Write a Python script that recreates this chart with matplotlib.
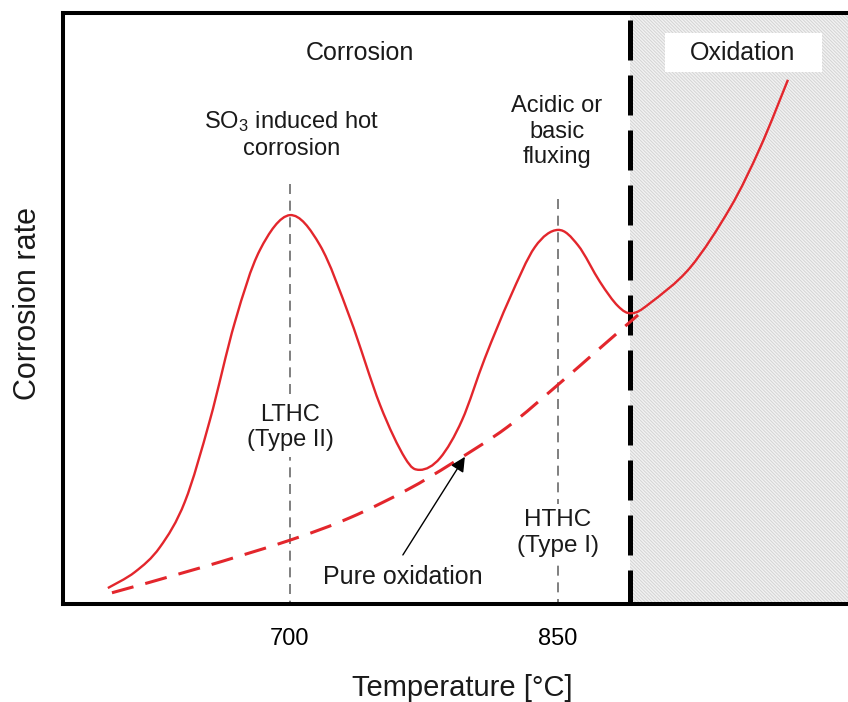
import matplotlib
matplotlib.use("Agg")
import matplotlib.pyplot as plt
from matplotlib.path import Path
from matplotlib.patches import PathPatch, Rectangle

plt.rcParams['font.family'] = ['Liberation Sans', 'DejaVu Sans']
plt.rcParams['mathtext.default'] = 'regular'
plt.rcParams['hatch.linewidth'] = 0.7

# Corrosion rate (arbitrary units) versus temperature
solid_T = [598.1, 613.2, 627.2, 641.2, 655.2, 669.2, 683.2, 700.0, 716.8,
           733.6, 750.4, 764.4, 772.8, 784.0, 796.3, 809.1, 823.1, 837.1,
           850.0, 861.2, 873.5, 883.6, 891.4, 901.5, 923.9, 946.3, 963.1,
           978.7]
solid_rate = [2.7, 5.4, 9.6, 17.3, 31.1, 47.7, 59.9, 65.8, 60.7, 48.4, 33.7,
              24.7, 22.7, 24.7, 31.1, 41.6, 51.8, 60.4, 63.3, 60.7, 54.5,
              50.4, 49.2, 50.9, 56.9, 67.0, 77.2, 88.7]

# Pure oxidation baseline
oxid_T = [600.4, 649.6, 700.0, 733.6, 765.5, 791.2, 821.5, 850.0, 872.4, 894.8]
oxid_rate = [1.9, 6.1, 10.8, 14.6, 19.3, 23.9, 29.9, 37.1, 43.0, 48.9]

tick_values = [700, 850]
tick_labels = ['700', '850']
boundary_T = 890.3
x_range = (573, 1012.3)
y_range = (0, 100)

RED = '#e3262c'


def smooth_path(xs, ys):
    """Cubic Bezier path passing through every (x, y) point (Catmull-Rom tangents)."""
    pts = list(zip(xs, ys))
    n = len(pts)
    verts = [pts[0]]
    codes = [Path.MOVETO]
    for i in range(n - 1):
        p0 = pts[max(i - 1, 0)]
        p1 = pts[i]
        p2 = pts[i + 1]
        p3 = pts[min(i + 2, n - 1)]
        c1 = (p1[0] + (p2[0] - p0[0]) / 6, p1[1] + (p2[1] - p0[1]) / 6)
        c2 = (p2[0] - (p3[0] - p1[0]) / 6, p2[1] - (p3[1] - p1[1]) / 6)
        verts += [c1, c2, p2]
        codes += [Path.CURVE4] * 3
    return Path(verts, codes)


fig = plt.figure(figsize=(8.48, 7.02), dpi=100)
ax = fig.add_axes([63 / 848, 98 / 702, 1 - 63 / 848, 591 / 702])
ax.set_xlim(*x_range)
ax.set_ylim(*y_range)

# oxidation regime shading
ax.axvspan(boundary_T, x_range[1], facecolor='#f2f2f2', edgecolor='#d4d4d4',
           hatch='\\' * 10, linewidth=0, zorder=0)

# guide lines at the two hot-corrosion peaks
ax.plot([700, 700], [71, 0], color='#6a6a6a', lw=1.2, linestyle=(0, (6, 4)), zorder=1)
ax.plot([850, 850], [68.5, 0], color='#6a6a6a', lw=1.2, linestyle=(0, (6, 4)), zorder=1)

# regime boundary
ax.plot([boundary_T, boundary_T], [100, 0], color='black', lw=3.6,
        linestyle=(9.6, (8, 3)), zorder=2, dash_capstyle='butt')

ax.add_patch(PathPatch(smooth_path(oxid_T, oxid_rate), facecolor='none',
                       edgecolor=RED, lw=2.2, linestyle=(0, (7.3, 4)),
                       capstyle='butt', zorder=3))
ax.add_patch(PathPatch(smooth_path(solid_T, solid_rate), facecolor='none',
                       edgecolor=RED, lw=1.7, zorder=4))

ax.spines['right'].set_visible(False)
for side in ['left', 'top', 'bottom']:
    ax.spines[side].set_linewidth(2.9)
    ax.spines[side].set_zorder(5)

ax.set_yticks([])
ax.set_xticks(tick_values)
ax.set_xticklabels(tick_labels, fontsize=17)
ax.tick_params(axis='x', length=0, pad=17)

txt = dict(ha='center', va='center', color='#1a1a1a', linespacing=1.2)
ax.text(739, 93.2, 'Corrosion', fontsize=18, **txt)
ax.add_patch(Rectangle((909.9, 90.0), 87.9, 6.6, facecolor='white',
                       edgecolor='none', zorder=5.5))
ax.text(953.5, 93.2, 'Oxidation', fontsize=18, zorder=6, **txt)
ax.text(701, 79.4, 'SO$_3$ induced hot\ncorrosion', fontsize=17, **txt)
ax.text(849.4, 79.9, 'Acidic or\nbasic\nfluxing', fontsize=17, **txt)
ax.text(700, 29.9, 'LTHC\n(Type II)', fontsize=17, zorder=2,
        bbox=dict(facecolor='white', edgecolor='none', pad=4), **txt)
ax.text(850, 12.0, 'HTHC\n(Type I)', fontsize=17.5, zorder=2,
        bbox=dict(facecolor='white', edgecolor='none', pad=4), **txt)
ax.text(763.2, 4.6, 'Pure oxidation', fontsize=18, **txt)
ax.annotate('', xy=(797.9, 24.9), xytext=(763.2, 8.3),
            arrowprops=dict(arrowstyle='-|>', color='black', lw=1.0,
                            mutation_scale=22, shrinkA=0, shrinkB=0), zorder=6)

fig.text(28 / 848, 1 - 303 / 702, 'Corrosion rate', rotation=90, fontsize=22,
         ha='center', va='center', color='#1a1a1a')
fig.text(462 / 848, 1 - 688 / 702, 'Temperature [°C]', fontsize=21,
         ha='center', va='center', color='#1a1a1a')

fig.savefig('out.png', dpi=100)
